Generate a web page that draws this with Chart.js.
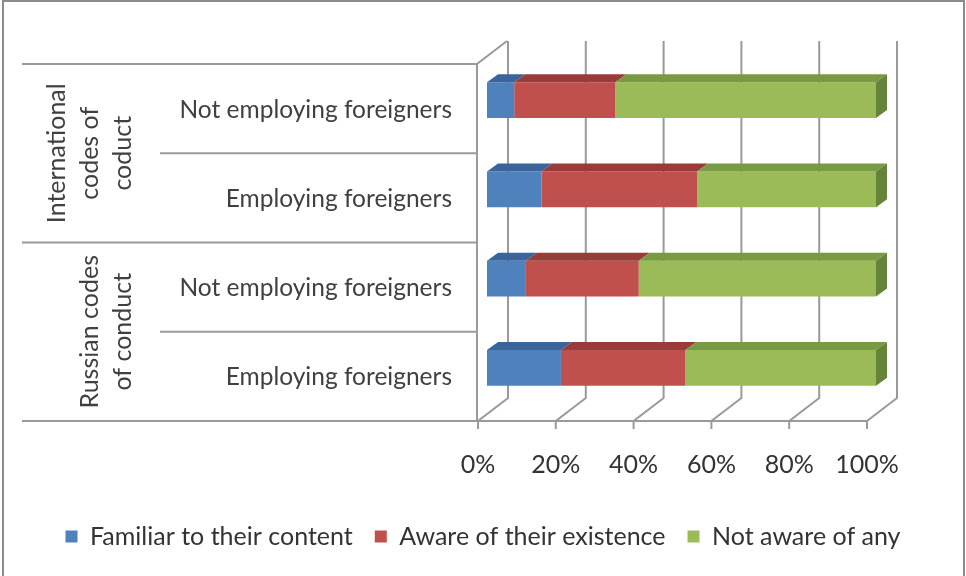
<!DOCTYPE html>
<html>
<head>
<meta charset="utf-8">
<script src="https://cdn.jsdelivr.net/npm/chart.js@4"></script>
<style>
  html, body { margin: 0; padding: 0; background: #fff; }
  canvas { display: block; }
</style>
</head>
<body>
<canvas id="codesChart" width="966" height="576"></canvas>
<script>
// rows, top to bottom
const rowLabels = ["Not employing foreigners", "Employing foreigners", "Not employing foreigners", "Employing foreigners"];
const groupLabels = [["International", "codes of", "coduct"], ["Russian codes", "of conduct"]];
const groupSizes = [2, 2];

const seriesNames = ["Familiar to their content", "Aware of their existence", "Not aware of any"];
const familiar = [7, 14, 10, 19];
const aware = [26, 40, 29, 32];
const notAware = [67, 46, 61, 49];
const tickValues = [0, 20, 40, 60, 80, 100];

const fronts = ["#4f81bd", "#c0504d", "#9bbb59"];
const tops = ["#3b659a", "#9a3b39", "#789a40"];
const sides = ["#33578a", "#853331", "#66833a"];

const FONT = "Lato, 'Open Sans', sans-serif";
const wallDx = 30, wallDy = -23;   // depth of the back wall
const barDx = 9, barDy = -8.5;     // bar front offset from floor edge
const depthDx = 11, depthDy = -8;  // bar thickness
const lineCol = "#9a9a9a";

const frame3d = {
    id: "frame3d",
    beforeDraw(chart) {
        const ctx = chart.ctx;
        const area = chart.chartArea;
        const xs = chart.scales.x;
        const ys = chart.scales.y;

        ctx.save();
        // outer border
        ctx.strokeStyle = "#8c8c8c";
        ctx.lineWidth = 2;
        ctx.strokeRect(3, 1, 961, 600);

        ctx.strokeStyle = lineCol;
        ctx.lineWidth = 2;
        // back wall grid + floor diagonals + ticks
        tickValues.forEach(v => {
            const px = xs.getPixelForValue(v);
            ctx.beginPath();
            ctx.moveTo(px + wallDx, area.top + wallDy);
            ctx.lineTo(px + wallDx, area.bottom + wallDy);
            ctx.lineTo(px, area.bottom);
            ctx.lineTo(px, area.bottom + 8);
            ctx.stroke();
        });
        // left wall
        ctx.beginPath();
        ctx.moveTo(area.left - 1, area.bottom);
        ctx.lineTo(area.left - 1, area.top);
        ctx.lineTo(area.left - 1 + wallDx, area.top + wallDy);
        ctx.stroke();
        // floor front edge + category axis lines
        ctx.beginPath();
        ctx.moveTo(22, area.bottom);
        ctx.lineTo(xs.getPixelForValue(100), area.bottom);
        ctx.stroke();

        const band = (ys.getPixelForValue(1) - ys.getPixelForValue(0));
        let row = 0;
        groupSizes.forEach((n, g) => {
            const y0 = ys.getPixelForValue(row) - band / 2;
            const y1 = ys.getPixelForValue(row + n - 1) + band / 2;
            ctx.beginPath();
            ctx.moveTo(22, y0);
            ctx.lineTo(area.left - 1, y0);
            for (let k = 1; k < n; k++) {
                const yk = ys.getPixelForValue(row + k) - band / 2;
                ctx.moveTo(160, yk);
                ctx.lineTo(area.left - 1, yk);
            }
            ctx.stroke();

            // rotated group label
            const lines = groupLabels[g];
            ctx.save();
            ctx.translate(0, (y0 + y1) / 2);
            ctx.rotate(-Math.PI / 2);
            ctx.fillStyle = "#404040";
            ctx.font = "25px " + FONT;
            ctx.textAlign = "center";
            ctx.textBaseline = "middle";
            lines.forEach((t, i) => {
                const x = 123 - (lines.length - 1 - i) * 33;
                ctx.fillText(t, 0, x);
            });
            ctx.restore();
            row += n;
        });

        // row labels
        ctx.fillStyle = "#404040";
        ctx.font = "24.5px " + FONT;
        ctx.textAlign = "right";
        ctx.textBaseline = "middle";
        rowLabels.forEach((t, i) => {
            ctx.fillText(t, 452, ys.getPixelForValue(i) + 1);
        });
        ctx.restore();
    },
    beforeDatasetsDraw(chart) {
        chart.ctx.save();
        chart.ctx.translate(barDx, barDy);
    },
    afterDatasetsDraw(chart) {
        const ctx = chart.ctx;
        const last = chart.data.datasets.length - 1;
        chart.data.datasets.forEach((ds, d) => {
            chart.getDatasetMeta(d).data.forEach(el => {
                const p = el.getProps(["x", "y", "base", "height"], true);
                const top = p.y - p.height / 2;
                const bottom = p.y + p.height / 2;
                const x0 = Math.min(p.x, p.base), x1 = Math.max(p.x, p.base);
                ctx.fillStyle = tops[d];
                ctx.beginPath();
                ctx.moveTo(x0, top);
                ctx.lineTo(x0 + depthDx, top + depthDy);
                ctx.lineTo(x1 + depthDx, top + depthDy);
                ctx.lineTo(x1, top);
                ctx.closePath();
                ctx.fill();
                if (d === last) {
                    ctx.fillStyle = sides[d];
                    ctx.beginPath();
                    ctx.moveTo(x1, top);
                    ctx.lineTo(x1 + depthDx, top + depthDy);
                    ctx.lineTo(x1 + depthDx, bottom + depthDy);
                    ctx.lineTo(x1, bottom);
                    ctx.closePath();
                    ctx.fill();
                }
            });
        });
        ctx.restore();
    }
};

const hiddenAxis = width => ({
    display: true,
    grid: {display: false},
    border: {display: false},
    ticks: {display: false},
    afterFit(scale) {
        scale.width = width;
    }
});

new Chart(document.getElementById("codesChart"), {
    type: "bar",
    data: {
        labels: rowLabels,
        datasets: [familiar, aware, notAware].map((vals, i) => ({
            label: seriesNames[i],
            data: vals,
            backgroundColor: fronts[i],
            borderWidth: 0,
            categoryPercentage: 0.8,
            barPercentage: 0.5
        }))
    },
    options: {
        indexAxis: "y",
        responsive: false,
        animation: false,
        layout: {padding: {left: 0, right: 0, top: 64, bottom: 17}},
        scales: {
            x: {
                stacked: true,
                min: 0,
                max: 100,
                afterBuildTicks(scale) {
                    scale.ticks = tickValues.map(v => ({value: v}));
                },
                afterFit(scale) {
                    scale.height = 81;
                },
                grid: {display: false},
                border: {display: false},
                ticks: {
                    padding: 21,
                    maxRotation: 0,
                    color: "#333",
                    font: {family: FONT, size: 25},
                    callback: v => v + "%"
                }
            },
            y: Object.assign({stacked: true, position: "left"}, hiddenAxis(478)),
            yRight: Object.assign({position: "right"}, hiddenAxis(99))
        },
        plugins: {
            legend: {
                position: "bottom",
                labels: {
                    boxWidth: 12,
                    boxHeight: 12,
                    padding: 22,
                    color: "#333",
                    font: {family: FONT, size: 25}
                }
            },
            tooltip: {enabled: false}
        }
    },
    plugins: [frame3d]
});
</script>
</body>
</html>
